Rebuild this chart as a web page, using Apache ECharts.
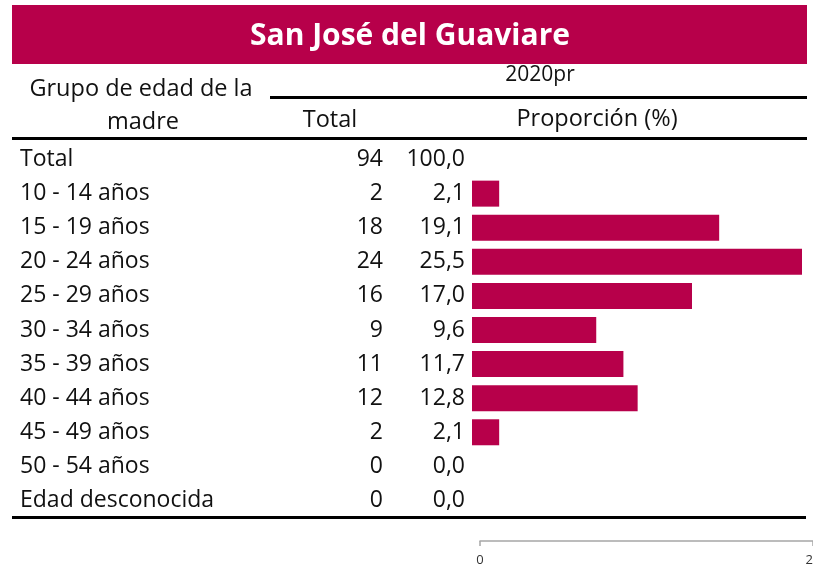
<!DOCTYPE html>
<html>
<head>
<meta charset="utf-8">
<script src="https://cdn.jsdelivr.net/npm/echarts@6/dist/echarts.min.js"></script>
<style>
  html, body { margin: 0; padding: 0; background: #fff; }
  #chart { width: 813px; height: 566px; }
</style>
</head>
<body>
<div id="chart"></div>
<script>
// Nacimientos por grupo de edad de la madre, San José del Guaviare, 2020pr
const categories = ['Total', '10 - 14 años', '15 - 19 años', '20 - 24 años', '25 - 29 años',
  '30 - 34 años', '35 - 39 años', '40 - 44 años', '45 - 49 años', '50 - 54 años', 'Edad desconocida'];
const totals = [94, 2, 18, 24, 16, 9, 11, 12, 2, 0, 0];
const percents = [100.0, 2.1, 19.1, 25.5, 17.0, 9.6, 11.7, 12.8, 2.1, 0.0, 0.0];
const scaleTicks = [0, 20];

const FONT = 'Open Sans';
const CRIMSON = '#b7004a';
const fmtPct = v => v.toFixed(1).replace('.', ',');

// The "Total" row carries no bar
const barValues = percents.map((v, i) => (i === 0 ? '-' : v));

const chart = echarts.init(document.getElementById('chart'), null, { renderer: 'canvas' });

const rowAxisBase = {
  type: 'category',
  data: categories,
  inverse: true,
  gridIndex: 0,
  position: 'left',
  offset: 0,
  axisLine: { show: false },
  axisTick: { show: false },
  splitLine: { show: false }
};

const rowFont = { color: '#111', fontFamily: FONT, fontSize: 23 };

chart.setOption({
  animation: false,
  backgroundColor: '#fff',
  grid: [
    { left: 472, right: 11, top: 142.5, height: 375, outerBoundsMode: 'none', containLabel: false },
    { left: 480, right: 0, top: 541, height: 0, outerBoundsMode: 'none', containLabel: false }
  ],
  xAxis: [
    { type: 'value', gridIndex: 0, min: 0, max: 25.5, show: false },
    {
      type: 'value', gridIndex: 1, min: scaleTicks[0], max: scaleTicks[1], interval: 20,
      axisLine: { show: true, lineStyle: { color: '#a6a6a6', width: 1.5 } },
      axisTick: { show: true, length: 5, lineStyle: { color: '#a6a6a6', width: 1.5 } },
      splitLine: { show: false },
      axisLabel: { color: '#333', fontFamily: FONT, fontSize: 13, margin: 13 }
    }
  ],
  yAxis: [
    Object.assign({}, rowAxisBase, {
      axisLabel: Object.assign({ align: 'left', margin: 452 }, rowFont)
    }),
    Object.assign({}, rowAxisBase, {
      axisLabel: Object.assign({
        align: 'right', margin: 89,
        formatter: (v, i) => String(totals[i])
      }, rowFont)
    }),
    Object.assign({}, rowAxisBase, {
      axisLabel: Object.assign({
        align: 'right', margin: 7,
        formatter: (v, i) => fmtPct(percents[i])
      }, rowFont)
    }),
    { type: 'category', gridIndex: 1, show: false, data: [''] }
  ],
  series: [{
    type: 'bar',
    xAxisIndex: 0,
    yAxisIndex: 0,
    data: barValues,
    barWidth: 26,
    itemStyle: { color: CRIMSON },
    silent: true
  }],
  graphic: [
    { type: 'rect', shape: { x: 12, y: 5, width: 795, height: 59 }, style: { fill: CRIMSON } },
    {
      type: 'text', x: 410, y: 36,
      style: { text: 'San José del Guaviare', fill: '#fff', font: 'bold 30px "Open Sans"',
        textAlign: 'center', textVerticalAlign: 'middle' }
    },
    {
      type: 'text', x: 141, y: 89,
      style: { text: 'Grupo de edad de la', fill: '#111', font: '23.5px "Open Sans"',
        textAlign: 'center', textVerticalAlign: 'middle' }
    },
    {
      type: 'text', x: 143, y: 122,
      style: { text: 'madre', fill: '#111', font: '23.5px "Open Sans"',
        textAlign: 'center', textVerticalAlign: 'middle' }
    },
    {
      type: 'text', x: 540, y: 75,
      style: { text: '2020pr', fill: '#111', font: '21px "Open Sans"',
        textAlign: 'center', textVerticalAlign: 'middle' }
    },
    {
      type: 'text', x: 330, y: 120,
      style: { text: 'Total', fill: '#111', font: '23.5px "Open Sans"',
        textAlign: 'center', textVerticalAlign: 'middle' }
    },
    {
      type: 'text', x: 597, y: 119,
      style: { text: 'Proporción (%)', fill: '#111', font: '23.5px "Open Sans"',
        textAlign: 'center', textVerticalAlign: 'middle' }
    },
    { type: 'line', shape: { x1: 270, y1: 97.5, x2: 807, y2: 97.5 }, style: { stroke: '#000', lineWidth: 3 } },
    { type: 'line', shape: { x1: 12, y1: 138.5, x2: 807, y2: 138.5 }, style: { stroke: '#000', lineWidth: 3 } },
    { type: 'line', shape: { x1: 12, y1: 517.5, x2: 806, y2: 517.5 }, style: { stroke: '#000', lineWidth: 3 } }
  ]
});
</script>
</body>
</html>
